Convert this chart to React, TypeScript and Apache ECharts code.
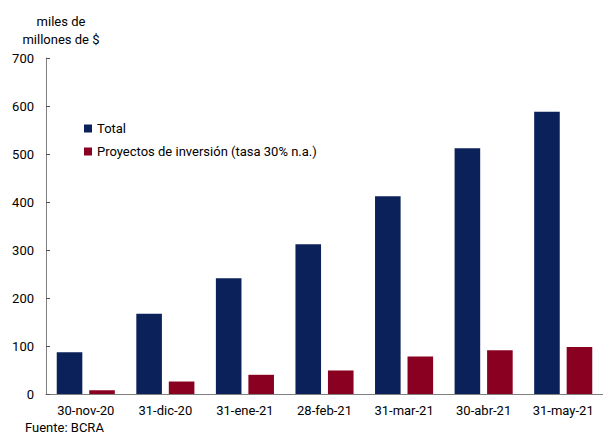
import React, { useEffect, useRef } from "react";
import * as echarts from "echarts";

const categories = ["30-nov-20", "31-dic-20", "31-ene-21", "28-feb-21", "31-mar-21", "30-abr-21", "31-may-21"];
const totalValues = [87, 167, 241, 312, 412, 512, 588];
const proyectosValues = [8, 26, 40, 49, 78, 91, 98];
const seriesNames = ["Total", "Proyectos de inversión (tasa 30% n.a.)"];
const yTitle = "miles de\nmillones de $";
const sourceText = "Fuente: BCRA";

export default function App() {
  const ref = useRef<HTMLDivElement>(null);
  useEffect(() => {
    if (!ref.current) return;
    const chart = echarts.init(ref.current, null, { renderer: "svg" });
    const font = "Roboto";
    chart.setOption({
      animation: false,
      textStyle: { fontFamily: font },
      grid: { left: 46, right: -3, top: 58, bottom: 40, containLabel: false },
      legend: {
        orient: "vertical",
        left: 84,
        top: 122,
        padding: 0,
        itemWidth: 8,
        itemHeight: 8,
        itemGap: 10,
        icon: "rect",
        textStyle: { fontFamily: font, fontSize: 13, color: "#000" },
        data: seriesNames,
      },
      xAxis: {
        type: "category",
        data: categories,
        axisLine: { lineStyle: { color: "#7f7f7f", width: 1 } },
        axisTick: { inside: true, length: 4, lineStyle: { color: "#555" } },
        axisLabel: { color: "#000", fontSize: 13, fontFamily: font, margin: 10 },
      },
      yAxis: {
        type: "value",
        min: 0,
        max: 700,
        interval: 100,
        axisLine: { show: true, lineStyle: { color: "#7f7f7f", width: 1 } },
        axisTick: { show: true, inside: true, length: 4, lineStyle: { color: "#555" } },
        axisLabel: { color: "#000", fontSize: 13, fontFamily: font, margin: 12 },
        splitLine: { show: false },
      },
      series: [
        {
          name: seriesNames[0],
          type: "bar",
          data: totalValues,
          itemStyle: { color: "#0b2159" },
          barGap: "27%",
          barCategoryGap: "27%",
        },
        {
          name: seriesNames[1],
          type: "bar",
          data: proyectosValues,
          itemStyle: { color: "#8a0020" },
        },
      ],
      graphic: [
        {
          type: "text",
          x: 61,
          y: 12,
          style: {
            text: yTitle,
            fontFamily: font,
            fontSize: 13,
            fill: "#000",
            align: "center",
            verticalAlign: "top",
            lineHeight: 18,
          },
        },
        {
          type: "text",
          left: 25,
          top: 421,
          style: { text: sourceText, fontFamily: font, fontSize: 13, fill: "#000" },
        },
      ],
    });
    return () => chart.dispose();
  }, []);
  return (
    <div
      ref={ref}
      style={{ position: "fixed", left: 0, top: 0, width: 603, height: 434, background: "#fff" }}
    />
  );
}
